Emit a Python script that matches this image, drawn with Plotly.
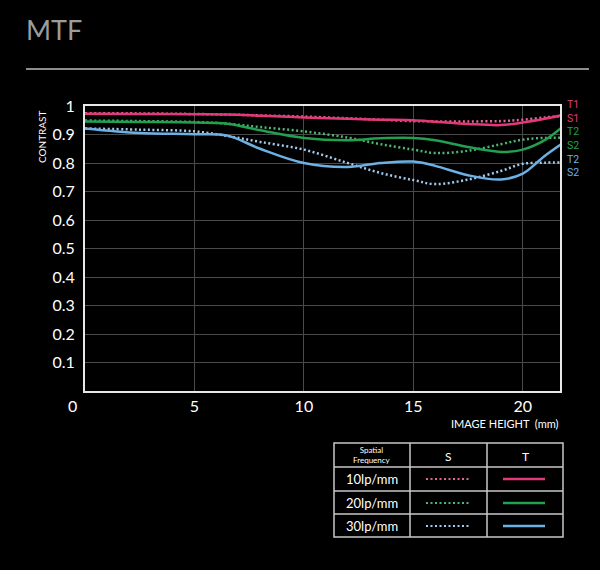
import plotly.graph_objects as go

# image height positions (mm) where the curves were read
mm = [0, 2.5, 5, 6.5, 8, 10, 12, 13.5, 15, 16, 17.5, 19, 20, 21, 21.75]

# contrast values
t_10 = [0.973, 0.972, 0.971, 0.970, 0.966, 0.960, 0.955, 0.952, 0.950, 0.945, 0.937, 0.933, 0.942, 0.955, 0.967]
s_10 = [0.975, 0.974, 0.972, 0.970, 0.967, 0.963, 0.957, 0.952, 0.947, 0.946, 0.946, 0.947, 0.952, 0.960, 0.965]
t_20 = [0.946, 0.944, 0.942, 0.938, 0.915, 0.888, 0.880, 0.887, 0.888, 0.880, 0.856, 0.839, 0.847, 0.880, 0.923]
s_20 = [0.949, 0.947, 0.944, 0.938, 0.926, 0.911, 0.889, 0.866, 0.847, 0.835, 0.843, 0.866, 0.882, 0.888, 0.889]
t_30 = [0.921, 0.905, 0.901, 0.896, 0.850, 0.800, 0.786, 0.800, 0.805, 0.790, 0.757, 0.742, 0.763, 0.825, 0.866]
s_30 = [0.921, 0.917, 0.911, 0.895, 0.874, 0.847, 0.800, 0.765, 0.740, 0.726, 0.742, 0.772, 0.797, 0.801, 0.802]

freq_labels = ["10lp/mm", "20lp/mm", "30lp/mm"]
solid_colors = ["#e23a78", "#22a050", "#6cb0e4"]
dot_colors = ["#e4649a", "#4cb872", "#a2cbee"]
end_labels = [("T1", "S1"), ("T2", "S2"), ("T2", "S2")]
y_ticks = [0.1, 0.2, 0.3, 0.4, 0.5, 0.6, 0.7, 0.8, 0.9, 1]
x_ticks = [5, 10, 15, 20]

W, H = 600, 570
L, R, T, B = 85, 40, 106, 179
FONT = "Lato"


def px(x):
    return (x - L) / (W - L - R)


def py(y):
    return (H - B - y) / (H - T - B)


def label(text, x, y, size, color="white", xanchor="center", **kw):
    return dict(text=text, x=px(x), y=py(y), xref="paper", yref="paper",
                xanchor=xanchor, yanchor="middle", showarrow=False,
                font=dict(size=size, color=color, family=kw.pop("family", FONT)), **kw)


fig = go.Figure()

for i, (t, s) in enumerate([(t_10, s_10), (t_20, s_20), (t_30, s_30)]):
    fig.add_trace(go.Scatter(x=mm, y=s, mode="lines", line_shape="spline",
                             line=dict(color=dot_colors[i], width=2.5, dash="2px,2.5px")))
    fig.add_trace(go.Scatter(x=mm, y=t, mode="lines", line_shape="spline",
                             line=dict(color=solid_colors[i], width=2.5)))

shapes = []
annotations = []

# title and rule
annotations.append(label("MTF", 24, 29, 27, color="#9c9c9c", xanchor="left"))
shapes.append(dict(type="line", xref="paper", yref="paper", x0=px(26), x1=px(589),
                   y0=py(69), y1=py(69), line=dict(color="#bdbdbd", width=1.5)))

# axis texts
annotations.append(label("CONTRAST", 42, 137, 10, textangle=-90))
annotations.append(label("IMAGE HEIGHT&nbsp;&nbsp;(mm)", 561, 423, 11, xanchor="right"))
annotations.append(label("0", 72, 405, 16))

# curve end labels, stacked in one block
end_text = "<br>".join(
    f"<span style='color:{solid_colors[i]}'>{a}</span><br>"
    f"<span style='color:{solid_colors[i]}'>{b}</span>"
    for i, (a, b) in enumerate(end_labels))
annotations.append(label(end_text, 565, 138, 10.5, xanchor="left", family="Roboto",
                         align="left"))

# legend table
grid = dict(color="#c8c8c8", width=1.5)
tx0, tx1, c1, c2 = 334, 563, 410, 487
ty0, ty1, r1, r2, r3 = 443, 537, 467, 491, 514
shapes.append(dict(type="rect", xref="paper", yref="paper", x0=px(tx0), x1=px(tx1),
                   y0=py(ty0), y1=py(ty1), line=grid))
for cx in (c1, c2):
    shapes.append(dict(type="line", xref="paper", yref="paper", x0=px(cx), x1=px(cx),
                       y0=py(ty0), y1=py(ty1), line=grid))
for ry in (r1, r2, r3):
    shapes.append(dict(type="line", xref="paper", yref="paper", x0=px(tx0), x1=px(tx1),
                       y0=py(ry), y1=py(ry), line=grid))

annotations.append(label("Spatial<br>Frequency", 372, 455, 8))
annotations.append(label("S", 448, 456, 12))
annotations.append(label("T", 525, 456, 12))
row_mid = [479, 503, 526]
for i, lab in enumerate(freq_labels):
    annotations.append(label(lab, 372, row_mid[i], 13))
    shapes.append(dict(type="line", xref="paper", yref="paper", x0=px(426), x1=px(469),
                       y0=py(row_mid[i]), y1=py(row_mid[i]),
                       line=dict(color=dot_colors[i], width=2, dash="2px,2.5px")))
    shapes.append(dict(type="line", xref="paper", yref="paper", x0=px(503), x1=px(545),
                       y0=py(row_mid[i]), y1=py(row_mid[i]),
                       line=dict(color=solid_colors[i], width=2.5)))

fig.update_layout(
    width=W, height=H,
    margin=dict(l=L, r=R, t=T, b=B),
    paper_bgcolor="black", plot_bgcolor="black",
    showlegend=False,
    font=dict(family=FONT, color="white"),
    shapes=shapes, annotations=annotations,
)
fig.update_xaxes(range=[0, 21.7], tickvals=x_ticks, showgrid=True, gridcolor="#4a4a4a",
                 gridwidth=1, zeroline=False, showline=True, mirror=True, linecolor="#e8e8e8",
                 linewidth=2, ticks="", tickfont=dict(size=16, color="white"))
fig.update_yaxes(range=[0, 1], tickvals=y_ticks, ticktext=[str(v) for v in y_ticks],
                 showgrid=True, gridcolor="#4a4a4a", gridwidth=1, zeroline=False,
                 showline=True, mirror=True, linecolor="#e8e8e8", linewidth=2, ticks="",
                 ticklabelstandoff=5, tickfont=dict(size=16, color="white"))

fig.write_html("out.html", config={"displayModeBar": False},
               post_script="document.body.style.margin='0';")
